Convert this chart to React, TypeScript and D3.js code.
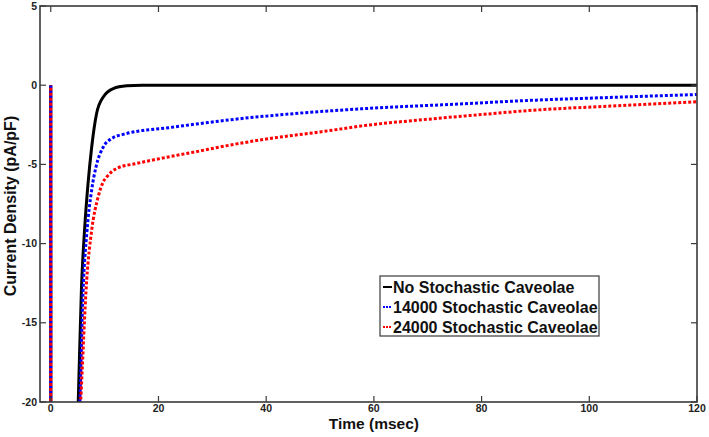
import { useEffect, useRef } from 'react';
import * as d3 from 'd3';

// time (msec) and current density (pA/pF)
const noCavT = [0, 0.02, 3, 5.1, 5.7, 6.3, 6.9, 7.6, 8.5, 9.75, 11.6, 14.1, 17, 25, 40, 60, 80, 100, 120];
const noCavV = [0, -60, -35, -20, -12.8, -9, -6.3, -3.9, -1.8, -0.74, -0.21, -0.04, 0, 0, 0, 0, 0, 0, 0];

const cav14T = [0, 0.02, 3, 5.4, 6.0, 6.7, 7.6, 8.4, 9.75, 11.3, 14.1, 16.6, 21, 27, 35, 45, 58.7, 75, 89.6, 105, 120];
const cav14V = [0, -60, -35, -20, -13, -9.3, -6.6, -5.16, -3.9, -3.37, -3.05, -2.88, -2.72, -2.45, -2.12, -1.8, -1.47, -1.2, -0.95, -0.76, -0.59];

const cav24T = [0, 0.02, 3, 5.55, 6.67, 7.6, 8.8, 9.75, 10.4, 12.2, 15.95, 20.3, 27.7, 31.4, 40, 50, 58.7, 70, 80, 89.6, 105, 120];
const cav24V = [0, -60, -35, -20, -12.3, -9.15, -7.05, -6.1, -5.79, -5.26, -4.94, -4.63, -4.15, -3.9, -3.4, -2.95, -2.53, -2.15, -1.85, -1.58, -1.3, -1.05];

const xTicks = [0, 20, 40, 60, 80, 100, 120];
const yTicks = [-20, -15, -10, -5, 0, 5];

const seriesNames = ['No Stochastic Caveolae', '14000 Stochastic Caveolae', '24000 Stochastic Caveolae'];
const seriesColors = ['#000000', '#0000ff', '#ff0000'];

export default function App() {
  const svgRef = useRef<SVGSVGElement>(null);

  useEffect(() => {
    if (!svgRef.current) return;
    d3.select(svgRef.current).selectAll('*').remove();

    const margin = { top: 6, right: 12, bottom: 35, left: 40 };
    const W = 709, H = 437;
    const width = W - margin.left - margin.right;
    const height = H - margin.top - margin.bottom;

    const svg = d3.select(svgRef.current);
    const g = svg.append('g').attr('transform', `translate(${margin.left},${margin.top})`);

    const x = d3.scaleLinear().domain([-2, 120]).range([0, width]);
    const y = d3.scaleLinear().domain([-20, 5]).range([height, 0]);

    g.append('defs').append('clipPath').attr('id', 'plot-clip')
      .append('rect').attr('width', width).attr('height', height);

    const axisColor = '#3a3a3a';
    const font = 'Arial, "Liberation Sans", sans-serif';

    // Series
    const line = d3.line<[number, number]>()
      .x(d => x(d[0]))
      .y(d => y(d[1]))
      .curve(d3.curveMonotoneX);

    const series = [
      { t: noCavT, v: noCavV, dash: null as string | null },
      { t: cav14T, v: cav14V, dash: '3,2' },
      { t: cav24T, v: cav24V, dash: '3,2' },
    ];

    const plot = g.append('g').attr('clip-path', 'url(#plot-clip)');
    series.forEach((s, i) => {
      const pts = s.t.map((t, k) => [t, s.v[k]] as [number, number]);
      plot.append('path')
        .datum(pts)
        .attr('fill', 'none')
        .attr('stroke', seriesColors[i])
        .attr('stroke-width', 3)
        .attr('stroke-dasharray', s.dash)
        .attr('stroke-dashoffset', i === 2 ? 2.5 : 0)
        .attr('d', line);
    });

    // Frame
    g.append('rect')
      .attr('width', width).attr('height', height)
      .attr('fill', 'none').attr('stroke', axisColor).attr('stroke-width', 1.6);

    // Ticks (inward on all four sides)
    const tickLen = 6;
    const xt = g.append('g');
    xTicks.forEach(t => {
      xt.append('line').attr('x1', x(t)).attr('x2', x(t)).attr('y1', height).attr('y2', height - tickLen)
        .attr('stroke', axisColor).attr('stroke-width', 1.2);
      xt.append('line').attr('x1', x(t)).attr('x2', x(t)).attr('y1', 0).attr('y2', tickLen)
        .attr('stroke', axisColor).attr('stroke-width', 1.2);
      xt.append('text').attr('x', x(t)).attr('y', height + 10)
        .attr('text-anchor', 'middle').attr('font-family', font).attr('font-size', 10.5)
        .attr('font-weight', 'bold').attr('fill', '#222').text(String(t));
    });
    const yt = g.append('g');
    yTicks.forEach(v => {
      yt.append('line').attr('x1', 0).attr('x2', tickLen).attr('y1', y(v)).attr('y2', y(v))
        .attr('stroke', axisColor).attr('stroke-width', 1.2);
      yt.append('line').attr('x1', width).attr('x2', width - tickLen).attr('y1', y(v)).attr('y2', y(v))
        .attr('stroke', axisColor).attr('stroke-width', 1.2);
      yt.append('text').attr('x', -3).attr('y', y(v)).attr('dy', '0.35em')
        .attr('text-anchor', 'end').attr('font-family', font).attr('font-size', 10.5)
        .attr('font-weight', 'bold').attr('fill', '#222').text(String(v));
    });

    // Axis titles
    svg.append('text')
      .attr('x', margin.left + x(60)).attr('y', 429)
      .attr('text-anchor', 'middle').attr('font-family', font).attr('font-size', 15.5)
      .attr('font-weight', 'bold').attr('fill', '#111').text('Time (msec)');
    svg.append('text')
      .attr('transform', `translate(16,${margin.top + height / 2 + 2}) rotate(-90)`)
      .attr('text-anchor', 'middle').attr('font-family', font).attr('font-size', 16)
      .attr('font-weight', 'bold').attr('fill', '#111').text('Current Density (pA/pF)');

    // Legend
    const lg = svg.append('g').attr('transform', 'translate(380,276)');
    lg.append('rect').attr('width', 219).attr('height', 60)
      .attr('fill', '#fff').attr('stroke', axisColor).attr('stroke-width', 1.2);
    seriesNames.forEach((name, i) => {
      const ry = 11 + i * 20;
      lg.append('line').attr('x1', 3).attr('x2', 12).attr('y1', ry).attr('y2', ry)
        .attr('stroke', seriesColors[i]).attr('stroke-width', 2)
        .attr('stroke-dasharray', i === 0 ? null : '2,1');
      lg.append('text').attr('x', 13).attr('y', ry).attr('dy', '0.36em')
        .attr('font-family', font).attr('font-size', 16).attr('font-weight', 'bold')
        .attr('fill', '#111').text(name);
    });
  }, []);

  return <svg ref={svgRef} width={709} height={437} style={{ position: 'absolute', left: 0, top: 0, background: '#fff' }} />;
}
